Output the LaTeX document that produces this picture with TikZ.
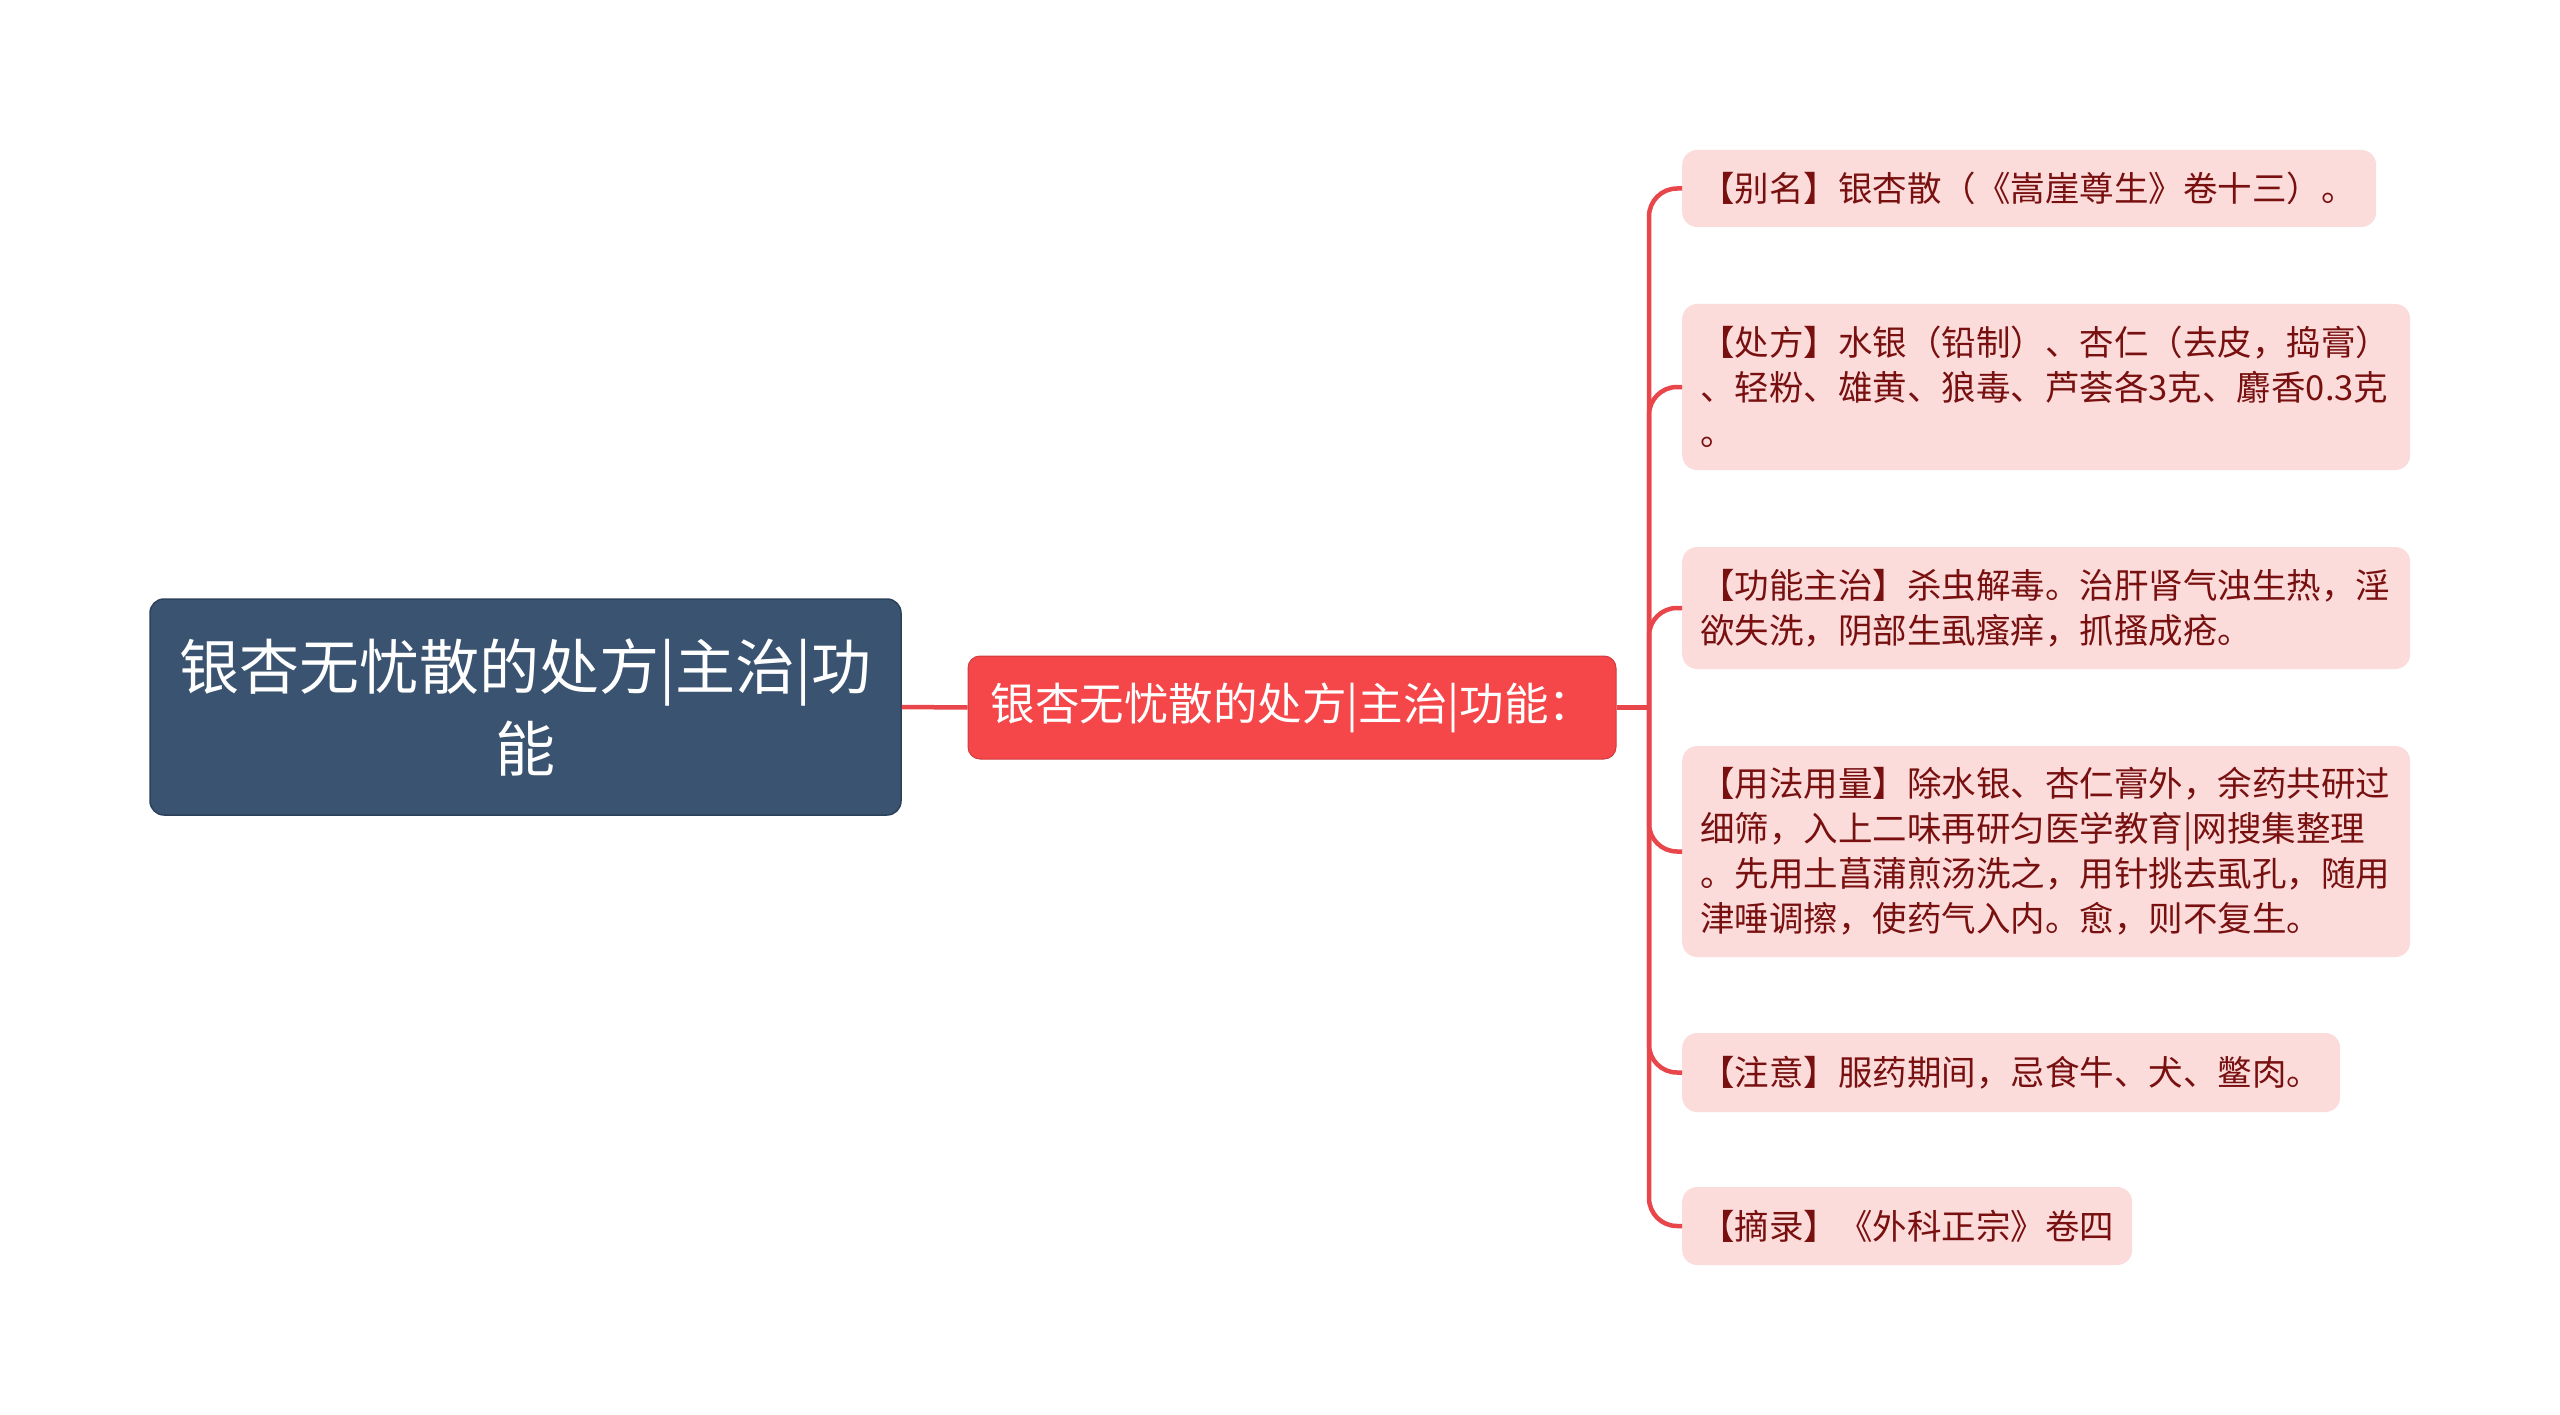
\documentclass[tikz,border=0pt]{standalone}
\usepackage{fontspec}
\setmainfont{Noto Sans CJK SC}
\definecolor{rootfill}{RGB}{58,83,112}
\definecolor{rootline}{RGB}{44,66,92}
\definecolor{subfill}{RGB}{245,71,74}
\definecolor{leaffill}{RGB}{252,219,219}
\definecolor{leaftext}{RGB}{120,16,16}
\definecolor{connred}{RGB}{232,70,74}
\tikzset{
  rootbox/.style={draw=rootline, line width=1.5pt, fill=rootfill, rounded corners=14pt, text=white,
    font=\fontsize{60pt}{82pt}\selectfont, align=center, minimum width=751pt, minimum height=216pt, inner sep=0pt},
  subbox/.style={draw=subfill!85!black, line width=1pt, fill=subfill, rounded corners=12pt, text=white,
    font=\fontsize{44.5pt}{52pt}\selectfont, minimum width=648pt, minimum height=103pt, inner sep=0pt},
  leafbox/.style={fill=leaffill, rounded corners=15pt, text=leaftext, anchor=west,
    font=\fontsize{34.5pt}{45pt}\selectfont, align=left, inner xsep=18pt, inner ysep=0pt},
  conn/.style={draw=connred, line width=4.5pt, rounded corners=28pt}
}
\begin{document}
\begin{tikzpicture}[x=1pt,y=-1pt]
\useasboundingbox[fill=white] (0,0) rectangle (2560,1415);
\node[rootbox] (root) at (525.5,707) {银杏无忧散的处方|主治|功\\能};
\node[subbox] (sub) at (1292,707.5) {\raisebox{-4pt}{银杏无忧散的处方|主治|功能：}};
\coordinate (j) at (1649,707.5);
\node[leafbox, text width=658pt, minimum height=77pt] (l1) at (1682,188.5) {【别名】银杏散（《嵩崖尊生》卷十三）。};
\node[leafbox, text width=692pt, minimum height=166pt] (l2) at (1682,387) {【处方】水银（铅制）、杏仁（去皮，捣膏）\\、轻粉、雄黄、狼毒、芦荟各3克、麝香0.3克\\。};
\node[leafbox, text width=692pt, minimum height=122pt] (l3) at (1682,608) {【功能主治】杀虫解毒。治肝肾气浊生热，淫\\欲失洗，阴部生虱瘙痒，抓搔成疮。};
\node[leafbox, text width=692pt, minimum height=211pt] (l4) at (1682,851.5) {【用法用量】除水银、杏仁膏外，余药共研过\\细筛，入上二味再研匀医学教育|网搜集整理\\。先用土菖蒲煎汤洗之，用针挑去虱孔，随用\\津唾调擦，使药气入内。愈，则不复生。};
\node[leafbox, text width=622pt, minimum height=79pt] (l5) at (1682,1072.5) {【注意】服药期间，忌食牛、犬、鳖肉。};
\node[leafbox, text width=414pt, minimum height=78pt] (l6) at (1682,1226) {【摘录】《外科正宗》卷四};
\draw[conn] (root.east) -- (sub.west);
\draw[conn] (sub.east) -- (j);
\foreach \n in {l1,l2,l3,l4,l5,l6}{
  \draw[conn] (j) |- (\n.west);
}
\end{tikzpicture}
\end{document}
